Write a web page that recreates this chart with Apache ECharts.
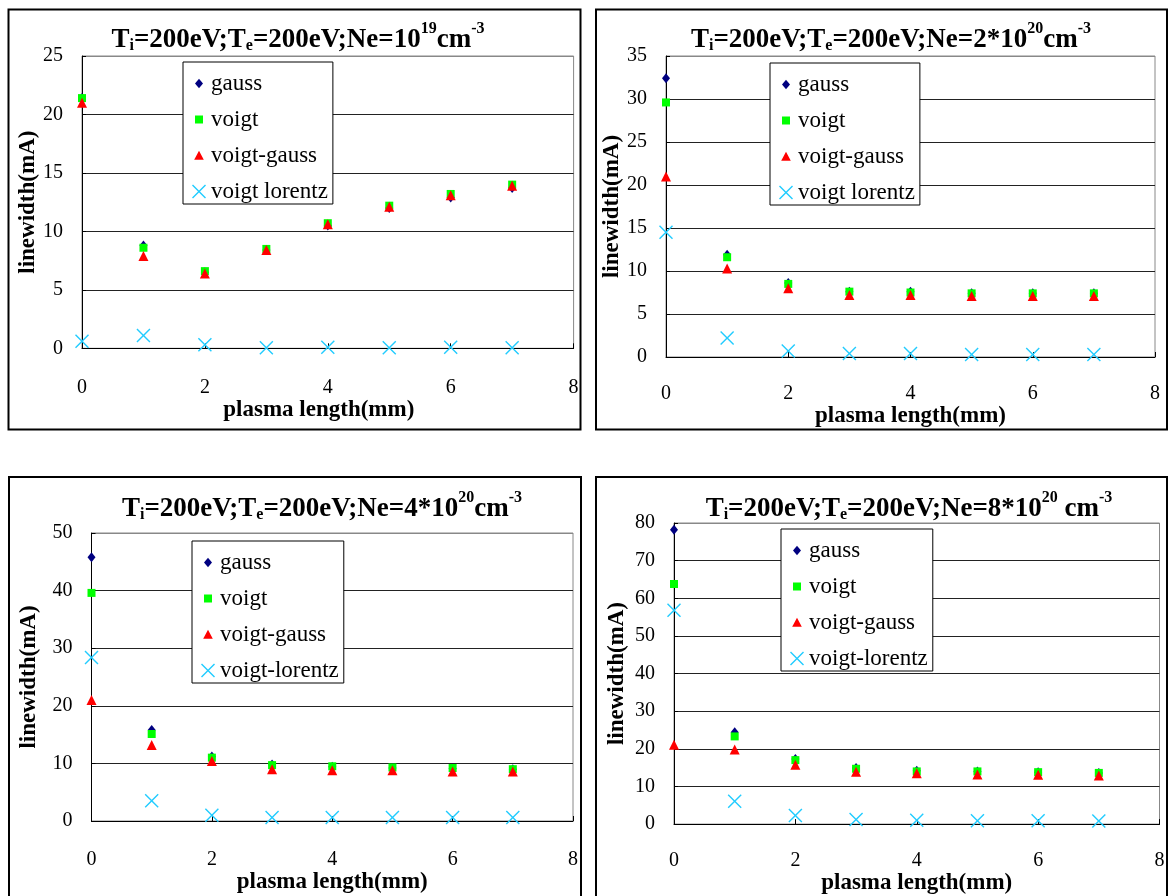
<!DOCTYPE html>
<html>
<head>
<meta charset="utf-8">
<script src="https://cdn.jsdelivr.net/npm/echarts@6/dist/echarts.min.js"></script>
<style>
html,body{margin:0;padding:0;background:#fff;}
#c{width:1168px;height:896px;}
</style>
</head>
<body>
<div id="c"></div>
<script>
// ---- data ----
const xValues = [0, 1, 2, 3, 4, 5, 6, 7];

const p1Gauss = [21.4, 8.8, 6.5, 8.4, 10.5, 12.0, 12.9, 13.7];
const p1Voigt = [21.4, 8.6, 6.6, 8.5, 10.7, 12.2, 13.2, 14.0];
const p1VoigtGauss = [21.0, 7.9, 6.4, 8.4, 10.6, 12.1, 13.1, 13.9];
const p1VoigtLorentz = [0.6, 1.1, 0.3, 0.05, 0.1, 0.05, 0.1, 0.05];

const p2Gauss = [32.4, 11.9, 8.6, 7.6, 7.6, 7.4, 7.4, 7.4];
const p2Voigt = [29.6, 11.6, 8.5, 7.6, 7.5, 7.4, 7.4, 7.4];
const p2VoigtGauss = [21.0, 10.3, 8.0, 7.2, 7.2, 7.1, 7.1, 7.1];
const p2VoigtLorentz = [14.5, 2.2, 0.7, 0.4, 0.4, 0.3, 0.3, 0.3];

const p3Gauss = [45.8, 15.8, 11.2, 9.8, 9.4, 9.2, 9.1, 9.0];
const p3Voigt = [39.6, 15.1, 11.0, 9.7, 9.5, 9.3, 9.2, 9.0];
const p3VoigtGauss = [21.0, 13.2, 10.4, 9.0, 8.8, 8.8, 8.6, 8.6];
const p3VoigtLorentz = [28.4, 3.5, 1.0, 0.6, 0.6, 0.6, 0.6, 0.6];

const p4Gauss = [78.2, 24.4, 17.3, 14.9, 14.2, 14.0, 13.8, 13.6];
const p4Voigt = [63.8, 23.3, 17.0, 14.7, 14.0, 14.0, 13.8, 13.6];
const p4VoigtGauss = [21.1, 19.8, 15.8, 13.9, 13.5, 13.2, 13.1, 12.9];
const p4VoigtLorentz = [56.8, 6.1, 2.3, 1.2, 1.0, 0.9, 0.9, 0.8];

const titles = [
  'T{s|i}=200eV;T{s|e}=200eV;Ne=10{sup|19}cm{sup|-3}',
  'T{s|i}=200eV;T{s|e}=200eV;Ne=2*10{sup|20}cm{sup|-3}',
  'T{s|i}=200eV;T{s|e}=200eV;Ne=4*10{sup|20}cm{sup|-3}',
  'T{s|i}=200eV;T{s|e}=200eV;Ne=8*10{sup|20} cm{sup|-3}'
];
const legendNames = [
  ['gauss', 'voigt', 'voigt-gauss', 'voigt lorentz'],
  ['gauss', 'voigt', 'voigt-gauss', 'voigt lorentz'],
  ['gauss', 'voigt', 'voigt-gauss', 'voigt-lorentz'],
  ['gauss', 'voigt', 'voigt-gauss', 'voigt-lorentz']
];
const yMax = [25, 35, 50, 80];
const yStep = [5, 5, 10, 10];
const xName = 'plasma length(mm)';
const yName = 'linewidth(mA)';

const panelData = [
  [p1Gauss, p1Voigt, p1VoigtGauss, p1VoigtLorentz],
  [p2Gauss, p2Voigt, p2VoigtGauss, p2VoigtLorentz],
  [p3Gauss, p3Voigt, p3VoigtGauss, p3VoigtLorentz],
  [p4Gauss, p4Voigt, p4VoigtGauss, p4VoigtLorentz]
];

// ---- layout / style ----
const FONT = '"Liberation Serif", "Times New Roman", serif';
const grids = [
  {left: 82, top: 56, width: 491.6, height: 292.3},
  {left: 666, top: 56, width: 489, height: 301},
  {left: 91.5, top: 533, width: 481.5, height: 288},
  {left: 674, top: 523, width: 485.5, height: 302}
];
const titlePos = [[298, 21], [891, 21], [322, 490], [909, 490]];
const legendPos = [[183, 62], [770, 63], [192, 541], [781, 529]];
const xLabelMargin = [29, 27, 29, 27];
const xNameGap = [49, 45, 47, 45];
const xNamePad = [[0, 18, 0, 0], [0, 0, 0, 0], [0, 0, 0, 0], [0, 0, 0, 0]];
const yNameGap = [36, 36, 51, 45];
const panels = [[8.5, 9.5, 572, 420], [596, 9.5, 571, 420], [9, 477, 572, 440], [596, 477, 571, 440]];

const xPath = 'path://M0,1L1,0L7,6L13,0L14,1L8,7L14,13L13,14L7,8L1,14L0,13L6,7Z';
const symbols = ['diamond', 'rect', 'triangle', xPath];
const symbolSizes = [[8, 10], 8, 10, 14];
const legendIcons = [
  'path://M0,0M14,14M7,2.2L11,7L7,11.8L3,7Z',
  'path://M0,0M14,14M3,3L11,3L11,11L3,11Z',
  'path://M0,0M14,14M7,2.2L11.8,11.2L2.2,11.2Z',
  xPath
];
const colors = ['#000080', '#00ff00', '#ff0000', '#22ccff'];

const option = {
  animation: false,
  backgroundColor: '#fff',
  title: [], legend: [], grid: [], xAxis: [], yAxis: [], series: [],
  graphic: panels.map(p => ({
    type: 'rect', shape: {x: p[0], y: p[1], width: p[2], height: p[3]},
    style: {fill: 'none', stroke: '#000', lineWidth: 2}, z: 100, silent: true
  }))
};

for (let i = 0; i < 4; i++) {
  option.title.push({
    text: titles[i], left: titlePos[i][0], top: titlePos[i][1], textAlign: 'center', padding: 0,
    textStyle: {
      fontFamily: FONT, fontWeight: 'bold', fontSize: 27, color: '#000', lineHeight: 38, verticalAlign: 'bottom',
      rich: {
        s: {fontFamily: FONT, fontWeight: 'bold', fontSize: 16, color: '#000', verticalAlign: 'bottom', padding: [0, 0, 5, 0]},
        sup: {fontFamily: FONT, fontWeight: 'bold', fontSize: 16, color: '#000', lineHeight: 16, verticalAlign: 'top'}
      }
    }
  });
  option.grid.push(Object.assign({show: true, borderColor: '#888', borderWidth: 1, backgroundColor: 'transparent'}, grids[i]));
  option.xAxis.push({
    type: 'value', gridIndex: i, min: 0, max: 8, interval: 2,
    name: xName, nameLocation: 'middle', nameGap: xNameGap[i],
    nameTextStyle: {fontFamily: FONT, fontWeight: 'bold', fontSize: 23, color: '#000', padding: xNamePad[i]},
    axisLine: {show: true, onZero: false, lineStyle: {color: '#000', width: 1}},
    axisTick: {show: true, inside: true, length: 5, lineStyle: {color: '#000'}},
    axisLabel: {fontFamily: FONT, fontSize: 20, color: '#000', margin: xLabelMargin[i]},
    splitLine: {show: false}
  });
  const nLines = yMax[i] / yStep[i] + 1;
  const splitColors = [];
  for (let k = 0; k < nLines; k++) splitColors.push(k === nLines - 1 ? '#888' : '#222');
  option.yAxis.push({
    type: 'value', gridIndex: i, min: 0, max: yMax[i], interval: yStep[i],
    name: yName, nameLocation: 'middle', nameGap: yNameGap[i],
    nameTextStyle: {fontFamily: FONT, fontWeight: 'bold', fontSize: 23, color: '#000'},
    axisLine: {show: true, onZero: false, lineStyle: {color: '#000', width: 1}},
    axisTick: {show: true, inside: true, length: 4, lineStyle: {color: '#000'}},
    axisLabel: {fontFamily: FONT, fontSize: 20, color: '#000', margin: 19},
    splitLine: {show: true, lineStyle: {color: splitColors, width: 1}}
  });
  option.legend.push({
    orient: 'vertical', left: legendPos[i][0], top: legendPos[i][1],
    data: legendNames[i].map((n, s) => ({name: n, icon: legendIcons[s]})),
    padding: [10, 5, 1, 9], itemGap: 13,
    itemWidth: 14, itemHeight: 14,
    borderColor: '#000', borderWidth: 1, backgroundColor: '#fff',
    textStyle: {fontFamily: FONT, fontSize: 23, color: '#000', lineHeight: 22},
    selectedMode: false, z: 10
  });
  for (let s = 0; s < 4; s++) {
    option.series.push({
      type: 'scatter', name: legendNames[i][s], xAxisIndex: i, yAxisIndex: i,
      symbol: symbols[s], symbolSize: symbolSizes[s],
      itemStyle: {color: colors[s], opacity: 1},
      data: xValues.map((x, k) => [x, panelData[i][s][k]]),
      z: 3 + s
    });
  }
}

const chart = echarts.init(document.getElementById('c'), null, {renderer: 'canvas'});
chart.setOption(option);
</script>
</body>
</html>
